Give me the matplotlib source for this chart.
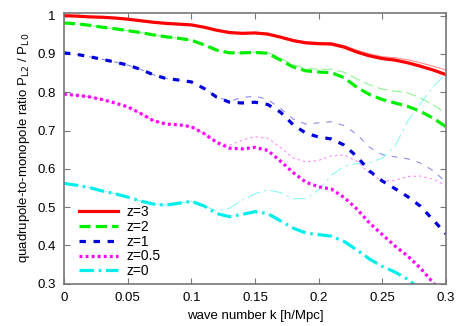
import numpy as np
import matplotlib
matplotlib.use("Agg")
import matplotlib.pyplot as plt
from matplotlib.ticker import FormatStrFormatter, MultipleLocator

plt.rcParams['font.family'] = ['Liberation Sans', 'DejaVu Sans']

k = [0.00, 0.01, 0.02, 0.03, 0.04, 0.05, 0.06, 0.07, 0.08, 0.09,
     0.10, 0.11, 0.12, 0.13, 0.14, 0.15, 0.16, 0.17, 0.18, 0.19,
     0.20, 0.21, 0.22, 0.23, 0.24, 0.25, 0.26, 0.27, 0.28, 0.29, 0.30]

# thick curves
z3 = [1.000, 0.999, 0.997, 0.996, 0.994, 0.991, 0.987, 0.983, 0.980, 0.978,
      0.976, 0.970, 0.962, 0.956, 0.954, 0.955, 0.952, 0.944, 0.935, 0.929,
      0.927, 0.926, 0.918, 0.905, 0.895, 0.888, 0.884, 0.877, 0.868, 0.858, 0.846]
z2 = [0.981, 0.979, 0.975, 0.970, 0.966, 0.961, 0.956, 0.950, 0.945, 0.941,
      0.936, 0.924, 0.910, 0.903, 0.903, 0.904, 0.902, 0.884, 0.866, 0.856,
      0.853, 0.851, 0.838, 0.813, 0.794, 0.781, 0.772, 0.763, 0.750, 0.732, 0.710]
z1 = [0.903, 0.899, 0.893, 0.886, 0.879, 0.871, 0.860, 0.846, 0.836, 0.832,
      0.827, 0.810, 0.787, 0.774, 0.772, 0.774, 0.768, 0.748, 0.715, 0.693,
      0.683, 0.678, 0.662, 0.632, 0.594, 0.568, 0.548, 0.527, 0.502, 0.466, 0.430]
z05 = [0.795, 0.792, 0.788, 0.781, 0.772, 0.762, 0.745, 0.726, 0.717, 0.715,
       0.710, 0.692, 0.669, 0.654, 0.652, 0.656, 0.648, 0.620, 0.590, 0.565,
       0.553, 0.547, 0.525, 0.495, 0.458, 0.428, 0.398, 0.372, 0.340, 0.302, 0.265]
z0 = [0.562, 0.557, 0.551, 0.542, 0.535, 0.526, 0.516, 0.508, 0.505, 0.510,
      0.515, 0.503, 0.483, 0.475, 0.481, 0.488, 0.483, 0.464, 0.445, 0.432,
      0.428, 0.424, 0.410, 0.388, 0.364, 0.345, 0.330, 0.311, 0.285, 0.258, 0.230]

# thin curves (second model)
z3_thin = z3[:16] + [0.953, 0.946, 0.937, 0.932, 0.930, 0.929, 0.922, 0.910,
                     0.900, 0.893, 0.890, 0.885, 0.877, 0.868, 0.858]
z2_thin = z2[:15] + [0.905, 0.904, 0.889, 0.872, 0.862, 0.860, 0.860, 0.852,
                     0.835, 0.819, 0.808, 0.803, 0.798, 0.785, 0.767, 0.745]
z1_thin = z1[:13] + [0.777, 0.786, 0.790, 0.781, 0.758, 0.730, 0.717, 0.720,
                     0.723, 0.713, 0.690, 0.656, 0.637, 0.631, 0.626, 0.615,
                     0.595, 0.565]
z05_thin = z05[:13] + [0.662, 0.675, 0.684, 0.680, 0.656, 0.628, 0.618, 0.622,
                       0.634, 0.636, 0.620, 0.588, 0.568, 0.570, 0.580, 0.581,
                       0.573, 0.556]
z0_thin = z0[:12] + [0.490, 0.497, 0.518, 0.535, 0.545, 0.538, 0.522, 0.522,
                     0.545, 0.583, 0.607, 0.614, 0.616, 0.628, 0.660, 0.725,
                     0.770, 0.815, 0.848]

labels = ['z=3', 'z=2', 'z=1', 'z=0.5', 'z=0']
colors = ['#ff0000', '#00ee00', '#0000dd', '#ff00ff', '#00eeee']
dashes = [(None), (3.5, 1.6), (2.0, 2.4), (0.9, 1.0), (4.5, 1.5, 0.8, 1.5)]
thick = [z3, z2, z1, z05, z0]
thin = [z3_thin, z2_thin, z1_thin, z05_thin, z0_thin]

fig = plt.figure(figsize=(4.57, 3.26), dpi=100)
ax = fig.add_axes([0.140, 0.130, 0.836, 0.830])

for y, c, d in zip(thin, colors, dashes):
    line, = ax.plot(k, y, color=c, lw=0.8, alpha=0.45)
    if d is not None:
        line.set_dashes([v * 2.6 for v in d])

for y, c, d, lab in zip(thick, colors, dashes, labels):
    line, = ax.plot(k, y, color=c, lw=2.3, label=lab)
    if d is not None:
        line.set_dashes(d)

ax.set_xlim(0, 0.3)
ax.set_ylim(0.3, 1.007)
ax.xaxis.set_major_locator(MultipleLocator(0.05))
ax.yaxis.set_major_locator(MultipleLocator(0.1))
ax.xaxis.set_major_formatter(FormatStrFormatter('%g'))
ax.yaxis.set_major_formatter(FormatStrFormatter('%g'))
ax.tick_params(direction='in', top=True, right=True, labelsize=9.5,
               length=4, color='#777777', pad=6)
for s in ax.spines.values():
    s.set_color('#777777')
    s.set_linewidth(1.2)

ax.set_xlabel('wave number k [h/Mpc]', fontsize=9.5)
ax.set_ylabel('quadrupole-to-monopole ratio P$_{\\mathrm{L2}}$ / P$_{\\mathrm{L0}}$',
              fontsize=9.5)

ax.legend(loc='lower left', frameon=False, fontsize=10, handlelength=2.8,
          handletextpad=0.6, labelspacing=0.05, borderaxespad=0.0,
          bbox_to_anchor=(0.025, 0.0))

fig.savefig('out.png', dpi=100)
